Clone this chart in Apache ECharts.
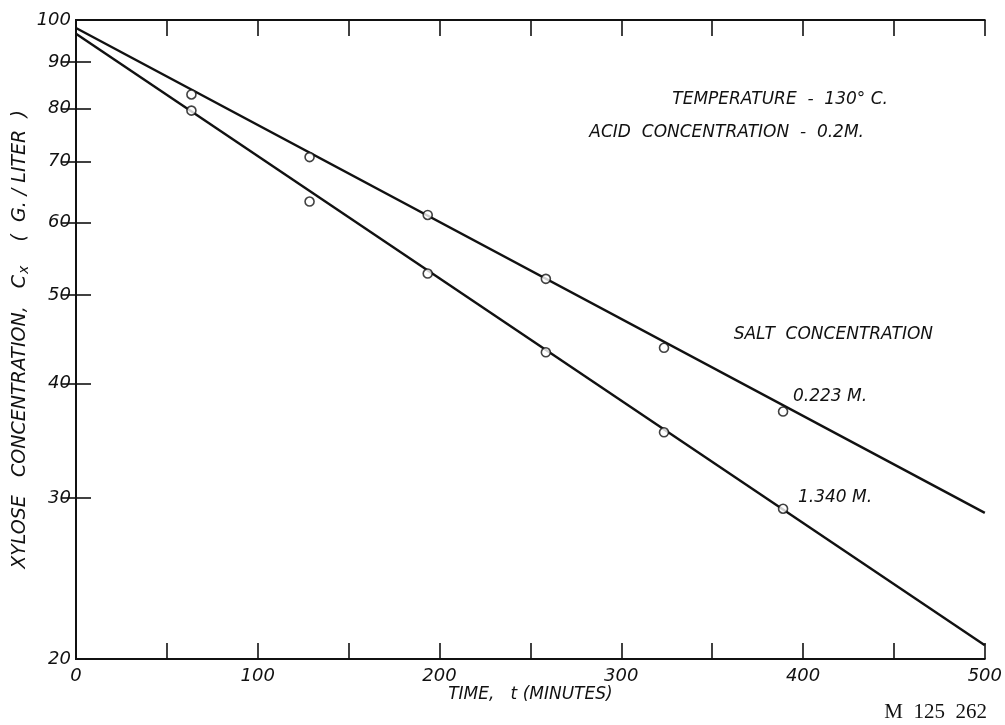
<!DOCTYPE html>
<html>
<head>
<meta charset="utf-8">
<script src="https://cdn.jsdelivr.net/npm/echarts@6/dist/echarts.min.js"></script>
<style>html,body{margin:0;padding:0;background:#fff}#c{width:1005px;height:725px}</style>
</head>
<body>
<div id="c"></div>
<script>
// ---- data ----
const timeMin   = [63.5, 128.5, 193.5, 258.5, 323.5, 389];
const salt0223  = [82.9, 70.8, 61.2, 52.1, 43.8, 37.3];
const salt1340  = [79.6, 63.3, 52.8, 43.3, 35.4, 29.2];
const fitTime   = [0, 500];
const fit0223   = [98.0, 28.9];
const fit1340   = [96.6, 20.7];
const yTickValues  = [30, 40, 50, 60, 70, 80, 90];
const yLabelValues = [20, 30, 40, 50, 60, 70, 80, 90, 100];
const xLabelValues = [0, 100, 200, 300, 400, 500];

const INK = '#111';
const FONT = 'DejaVu Sans';
const labFont = {fontFamily: FONT, fontStyle: 'italic', fontSize: 18, color: INK};
const pairs = (xs, ys) => xs.map((x, i) => [x, ys[i]]);

const chart = echarts.init(document.getElementById('c'), null, {renderer: 'canvas'});
const axisLine = {show: true, lineStyle: {color: INK, width: 2}};
const tickStyle = {color: INK, width: 1.6};

chart.setOption({
  animation: false,
  backgroundColor: '#fff',
  grid: {left: 76, right: 20, top: 20, bottom: 66, containLabel: false},
  xAxis: [
    {
      type: 'value', min: 0, max: 500, interval: 50, position: 'bottom',
      axisLine: axisLine,
      axisTick: {show: true, inside: true, length: 16, lineStyle: tickStyle},
      axisLabel: Object.assign({margin: 8, customValues: xLabelValues}, labFont),
      splitLine: {show: false},
      name: 'TIME,   t (MINUTES)', nameLocation: 'middle', nameGap: 27, nameMoveOverlap: false,
      nameTextStyle: {fontFamily: FONT, fontStyle: 'italic', fontSize: 17, color: INK, verticalAlign: 'top'}
    },
    {
      type: 'value', min: 0, max: 500, interval: 50, position: 'top',
      axisLine: axisLine,
      axisTick: {show: true, inside: true, length: 16, lineStyle: tickStyle},
      axisLabel: {show: false}, splitLine: {show: false}
    }
  ],
  yAxis: [
    {
      type: 'log', logBase: 10, min: 20, max: 100, position: 'left',
      axisLine: axisLine,
      axisTick: {show: true, inside: true, length: 15, lineStyle: tickStyle, customValues: yTickValues},
      axisLabel: Object.assign({margin: 5, customValues: yLabelValues}, labFont),
      splitLine: {show: false}, minorTick: {show: false},
      name: '{t|XYLOSE   CONCENTRATION,   C}{s|x}{t|    (  G. / LITER  )}',
      nameLocation: 'middle', nameRotate: 90, nameGap: 44, nameMoveOverlap: false,
      nameTextStyle: {
        rich: {
          t: {fontFamily: FONT, fontStyle: 'italic', fontSize: 19, color: INK, lineHeight: 24},
          s: {fontFamily: FONT, fontStyle: 'italic', fontSize: 14, color: INK, lineHeight: 24, padding: [9, 0, 0, 1]}
        }
      }
    },
    {
      type: 'log', logBase: 10, min: 20, max: 100, position: 'right',
      axisLine: axisLine,
      axisTick: {show: true, inside: true, length: 15, lineStyle: tickStyle, customValues: yTickValues},
      axisLabel: {show: false}, splitLine: {show: false}, minorTick: {show: false}
    }
  ],
  series: [
    {name: 'fit 0.223 M', type: 'line', data: pairs(fitTime, fit0223), showSymbol: false,
     lineStyle: {color: INK, width: 2.4}, z: 2, silent: true},
    {name: 'fit 1.340 M', type: 'line', data: pairs(fitTime, fit1340), showSymbol: false,
     lineStyle: {color: INK, width: 2.4}, z: 2, silent: true},
    {name: '0.223 M', type: 'scatter', data: pairs(timeMin, salt0223), symbol: 'circle', symbolSize: 9,
     itemStyle: {color: '#fff', borderColor: INK, borderWidth: 1.6}, z: 5},
    {name: '1.340 M', type: 'scatter', data: pairs(timeMin, salt1340), symbol: 'circle', symbolSize: 9,
     itemStyle: {color: '#fff', borderColor: INK, borderWidth: 1.6}, z: 5}
  ],
  graphic: [
    {type: 'text', x: 888, y: 100, style: {text: 'TEMPERATURE  -  130° C.', align: 'right', verticalAlign: 'middle',
      font: 'italic 17px "DejaVu Sans"', fill: INK}},
    {type: 'text', x: 864, y: 133, style: {text: 'ACID  CONCENTRATION  -  0.2M.', align: 'right', verticalAlign: 'middle',
      font: 'italic 17px "DejaVu Sans"', fill: INK}},
    {type: 'text', x: 933, y: 335, style: {text: 'SALT  CONCENTRATION', align: 'right', verticalAlign: 'middle',
      font: 'italic 17px "DejaVu Sans"', fill: INK}},
    {type: 'text', x: 793, y: 397, style: {text: '0.223 M.', align: 'left', verticalAlign: 'middle',
      font: 'italic 17px "DejaVu Sans"', fill: INK}},
    {type: 'text', x: 798, y: 498, style: {text: '1.340 M.', align: 'left', verticalAlign: 'middle',
      font: 'italic 17px "DejaVu Sans"', fill: INK}},
    {type: 'text', x: 987, y: 712, style: {text: 'M  125  262', align: 'right', verticalAlign: 'middle',
      font: '21px "Liberation Serif"', fill: INK}}
  ]
});
</script>
</body>
</html>
